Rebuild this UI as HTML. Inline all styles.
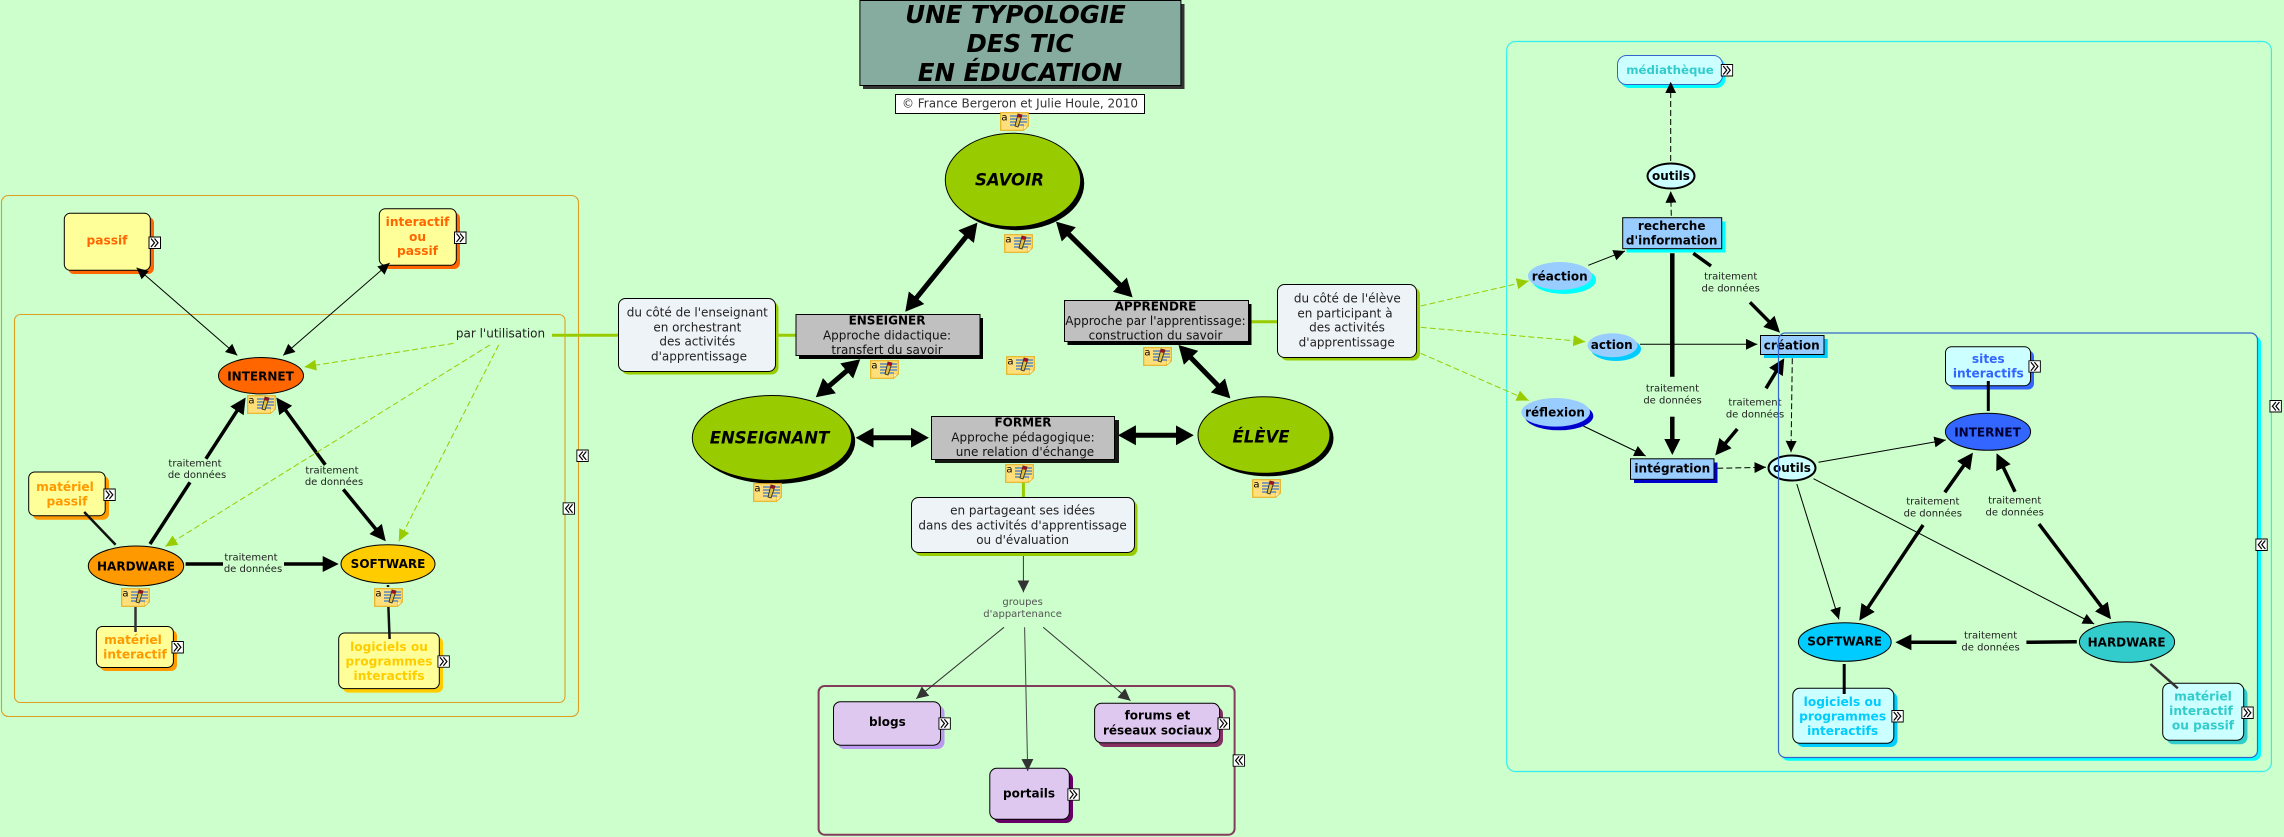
<!DOCTYPE html>
<html lang="fr"><head><meta charset="utf-8"><title>Une typologie des TIC en éducation</title>
<style>
html,body{margin:0;padding:0;background:#ccffcc;width:2284px;height:837px;overflow:hidden}
svg{display:block;filter:blur(.3px)}
text{font-family:"DejaVu Sans",Verdana,"Liberation Sans",sans-serif;text-anchor:middle;dominant-baseline:central}
.r{font-size:12px;fill:#222}
.b{font-size:12px;font-weight:bold;fill:#000}
.n{font-size:12.2px;font-weight:bold}
.s{font-size:10px;fill:#222}
.o{font-size:12px;font-weight:bold;fill:#000}
.h{font-size:16.5px;font-weight:bold;font-style:italic;fill:#000}
.tt{font-size:24.5px;font-weight:bold;font-style:italic;fill:#000}
.thin{stroke:#000;stroke-width:1;fill:none}
.k3{stroke:#000;stroke-width:3.5;fill:none}
.k4{stroke:#000;stroke-width:4.5;fill:none}
.k5{stroke:#000;stroke-width:5;fill:none}
.gd{stroke:#99cc00;stroke-width:1;stroke-dasharray:6 3;fill:none}
.bd{stroke:#000;stroke-width:1;stroke-dasharray:6 3;fill:none}
.g{stroke:#99cc00;stroke-width:3;fill:none}
</style></head><body>
<svg width="2284" height="837" viewBox="0 0 2284 837" xmlns="http://www.w3.org/2000/svg">
<defs>
<marker id="a" markerUnits="userSpaceOnUse" markerWidth="13" markerHeight="13" refX="11.5" refY="5.5" orient="auto-start-reverse"><polygon points="0,0 11.5,5.5 0,11" fill="#000"/></marker>
<marker id="ad" markerUnits="userSpaceOnUse" markerWidth="13" markerHeight="13" refX="12" refY="6" orient="auto-start-reverse"><polygon points="0,0 12,6 0,12" fill="#333"/></marker>
<marker id="ag" markerUnits="userSpaceOnUse" markerWidth="13" markerHeight="13" refX="12" refY="5.5" orient="auto-start-reverse"><polygon points="0,0 12,5.5 0,11" fill="#99cc00"/></marker>
<marker id="t" markerUnits="userSpaceOnUse" markerWidth="17" markerHeight="17" refX="8" refY="8" orient="auto-start-reverse"><polygon points="0,0 16,8 0,16" fill="#000"/></marker>
<marker id="B" markerUnits="userSpaceOnUse" markerWidth="19" markerHeight="21" refX="10" refY="10" orient="auto-start-reverse"><polygon points="0,0 18,10 0,20" fill="#000"/></marker>
<symbol id="note" viewBox="0 0 29 19">
<path d="M.7.7H28.3V14L23.5 18.3H.7Z" fill="#ffdf7a" stroke="#e8b020" stroke-width="1.2"/>
<path d="M23.5 18.3V14H28.3Z" fill="#fff3c0" stroke="#e8b020" stroke-width=".6"/>
<text x="4.5" y="6" style="font-size:10px" fill="#000">a</text>
<path d="M10 4H27M10 7H27M10 10H27M10 13H24" stroke="#3b78c8" stroke-width="1.2"/>
<path d="M18 2L22 3L18 15L15 14Z" fill="#e0c040" stroke="#222" stroke-width=".8"/>
<path d="M18 2L22 3L21 6L17 5Z" fill="#a01020"/>
</symbol>
<symbol id="ex" viewBox="0 0 12.5 12.5">
<rect x=".5" y=".5" width="11.5" height="11.5" fill="#fff" stroke="#000"/>
<path d="M2.5 2L6 6.2L2.5 10.5M6 2L9.5 6.2L6 10.5" fill="none" stroke="#000" stroke-width="1.2"/>
</symbol>
<symbol id="co" viewBox="0 0 12.5 12.5">
<rect x=".5" y=".5" width="11.5" height="11.5" fill="#fff" stroke="#000"/>
<path d="M6.5 2L3 6.2L6.5 10.5M10 2L6.5 6.2L10 10.5" fill="none" stroke="#000" stroke-width="1.2"/>
</symbol>
</defs>

<rect width="2284" height="837" fill="#ccffcc"/>

<!-- containers -->
<rect x="1.5" y="195.5" width="577" height="521" rx="7" fill="none" stroke="#dd9f22" stroke-width="1.1"/>
<rect x="14.5" y="314.5" width="550.5" height="388" rx="6" fill="none" stroke="#dd9f22" stroke-width="1.1"/>
<rect x="818.6" y="686" width="416" height="148.7" rx="6" fill="none" stroke="#843c5c" stroke-width="2"/>
<rect x="1506.7" y="41.5" width="764.7" height="730" rx="9" fill="none" stroke="#33eeee" stroke-width="1.2"/>
<rect x="1781.5" y="336" width="479.5" height="424.7" rx="7" fill="#00ffff"/>
<rect x="1778.3" y="332.7" width="479" height="424.6" rx="7" fill="#ccffcc"/>

<!-- green links -->
<path class="g" d="M552 335.3H618M776 335.3H796M1248 321.7H1278M1023.4 482.7V497.5"/>

<!-- title -->
<rect x="863" y="4" width="321.5" height="85" fill="#333"/>
<rect x="859.9" y=".5" width="321" height="85" fill="#86aca0" stroke="#000"/>
<text class="tt" x="1015.5" y="14.3">UNE TYPOLOGIE</text>
<text class="tt" x="1020" y="43.3">DES TIC</text>
<text class="tt" x="1020" y="72.3">EN ÉDUCATION</text>
<rect x="895.5" y="94.5" width="249" height="19" fill="#fff" stroke="#000"/>
<text class="r" x="1020" y="103.5" style="fill:#333">© France Bergeron et Julie Houle, 2010</text>

<!-- main ellipses -->
<ellipse cx="1016.5" cy="183.5" rx="67.7" ry="46.7" fill="#000"/>
<ellipse cx="1013" cy="180" rx="67.7" ry="46.7" fill="#99cc00" stroke="#000"/>
<text class="h" x="1009.5" y="180">SAVOIR</text>
<ellipse cx="775.5" cy="441.5" rx="79.7" ry="42.5" fill="#000"/>
<ellipse cx="772" cy="438" rx="79.7" ry="42.5" fill="#99cc00" stroke="#000"/>
<text class="h" x="769.5" y="438">ENSEIGNANT</text>
<ellipse cx="1267.5" cy="438" rx="66" ry="38.3" fill="#000"/>
<ellipse cx="1264" cy="435" rx="66" ry="38.3" fill="#99cc00" stroke="#000"/>
<text class="h" x="1261" y="437">ÉLÈVE</text>

<!-- grey boxes -->
<rect x="799" y="318" width="184" height="41" fill="#000"/>
<rect x="796" y="314.5" width="184" height="41" fill="#c0c0c0" stroke="#000"/>
<text class="b" x="887" y="320.7">ENSEIGNER</text>
<text class="r" x="887" y="335.3" style="fill:#111">Approche didactique:</text>
<text class="r" x="887" y="350" style="fill:#111">transfert du savoir</text>
<rect x="1067.5" y="304" width="184" height="41" fill="#000"/>
<rect x="1064.5" y="300.5" width="184" height="41" fill="#c0c0c0" stroke="#000"/>
<text class="b" x="1155.5" y="306.3">APPRENDRE</text>
<text class="r" x="1155.5" y="321" style="fill:#111">Approche par l'apprentissage:</text>
<text class="r" x="1155.5" y="335.7" style="fill:#111">construction du savoir</text>
<rect x="935" y="420" width="184" height="43" fill="#000" opacity=".9"/>
<rect x="931.5" y="416.5" width="183" height="43" fill="#c0c0c0" stroke="#000"/>
<text class="b" x="1023" y="422.7">FORMER</text>
<text class="r" x="1023" y="437.3" style="fill:#111">Approche pédagogique:</text>
<text class="r" x="1025" y="452" style="fill:#111">une relation d'échange</text>

<!-- callouts -->
<rect x="621.5" y="301.5" width="157" height="73" rx="7" fill="#99cc00"/>
<rect x="618.5" y="298.5" width="157" height="73" rx="7" fill="#eef3f8" stroke="#000"/>
<text class="r" x="697.3" y="312.7">du côté de l'enseignant</text>
<text class="r" x="697.3" y="327.3">en orchestrant</text>
<text class="r" x="697.3" y="341.7">des activités</text>
<text class="r" x="699" y="356.7">d'apprentissage</text>
<rect x="1280.5" y="287.5" width="139.5" height="73" rx="7" fill="#99cc00"/>
<rect x="1277.5" y="284.5" width="139" height="73" rx="7" fill="#eef3f8" stroke="#000"/>
<text class="r" x="1347.3" y="298.7">du côté de l'élève</text>
<text class="r" x="1345" y="313.3">en participant à</text>
<text class="r" x="1347" y="327.7">des activités</text>
<text class="r" x="1346.7" y="342.7">d'apprentissage</text>
<rect x="914.5" y="500.5" width="223" height="55.5" rx="7" fill="#99cc00"/>
<rect x="911.5" y="497.5" width="223" height="55" rx="7" fill="#eef3f8" stroke="#000"/>
<text class="r" x="1022.6" y="510.7">en partageant ses idées</text>
<text class="r" x="1022.6" y="525.3">dans des activités d'apprentissage</text>
<text class="r" x="1022.6" y="540">ou d'évaluation</text>
<text class="s" x="1022.6" y="602.3" style="fill:#555">groupes</text>
<text class="s" x="1022.6" y="614.3" style="fill:#555">d'appartenance</text>

<!-- purple nodes -->
<rect x="837.5" y="705.5" width="107" height="43.5" rx="7" fill="#bb99ee"/>
<rect x="833.5" y="701.7" width="107" height="43.5" rx="7" fill="#dfc8f0" stroke="#000"/>
<text class="b" x="887.4" y="722">blogs</text>
<rect x="1098" y="707" width="125" height="40" rx="7" fill="#843060"/>
<rect x="1094.6" y="703.3" width="125" height="39.5" rx="7" fill="#dfc8f0" stroke="#000"/>
<text class="b" x="1157.4" y="715.7">forums et</text>
<text class="b" x="1157.4" y="730.3">réseaux sociaux</text>
<rect x="993.5" y="772" width="79.5" height="51" rx="7" fill="#660066"/>
<rect x="989.8" y="768.3" width="79.5" height="51" rx="7" fill="#dfc8f0" stroke="#000"/>
<text class="b" x="1029" y="793.3">portails</text>

<!-- left nodes -->
<rect x="68" y="217" width="86" height="57" rx="6" fill="#ff6600"/>
<rect x="64.3" y="213.3" width="86" height="57" rx="6" fill="#ffff99" stroke="#000"/>
<text class="n" x="107" y="240.5" style="fill:#ff6600">passif</text>
<rect x="383" y="212.5" width="77" height="56.5" rx="6" fill="#ff6600"/>
<rect x="379.3" y="208.8" width="77" height="56.5" rx="6" fill="#ffff99" stroke="#000"/>
<text class="n" x="417.5" y="222" style="fill:#ff6600">interactif</text>
<text class="n" x="417.5" y="237" style="fill:#ff6600">ou</text>
<text class="n" x="417.5" y="251" style="fill:#ff6600">passif</text>
<rect x="32.5" y="476" width="76.5" height="43.7" rx="6" fill="#ff9900"/>
<rect x="28.7" y="472" width="76.5" height="43.7" rx="6" fill="#ffff99" stroke="#000"/>
<text class="n" x="65" y="487" style="fill:#ff9900">matériel</text>
<text class="n" x="67" y="501.5" style="fill:#ff9900">passif</text>
<rect x="100" y="630" width="77" height="41" rx="6" fill="#ff9900"/>
<rect x="96.4" y="626.5" width="77" height="41" rx="6" fill="#ffff99" stroke="#000"/>
<text class="n" x="133" y="640" style="fill:#ff9900">matériel</text>
<text class="n" x="135" y="654.5" style="fill:#ff9900">interactif</text>
<rect x="342.5" y="637" width="100.6" height="55.6" rx="6" fill="#ffcc00"/>
<rect x="338.7" y="633" width="100.6" height="55.6" rx="6" fill="#ffff99" stroke="#000"/>
<text class="n" x="389" y="647" style="fill:#ffcc00">logiciels ou</text>
<text class="n" x="389" y="661.5" style="fill:#ffcc00">programmes</text>
<text class="n" x="389" y="676" style="fill:#ffcc00">interactifs</text>
<ellipse cx="261" cy="375.7" rx="42.5" ry="18.2" fill="#ff6600" stroke="#000"/>
<text class="b" x="260.5" y="376.5">INTERNET</text>
<ellipse cx="136" cy="566" rx="47.7" ry="20" fill="#ff9900" stroke="#000"/>
<text class="b" x="136" y="566.5">HARDWARE</text>
<ellipse cx="388" cy="564" rx="47" ry="19.3" fill="#ffcc00" stroke="#000"/>
<text class="b" x="388" y="564">SOFTWARE</text>
<text class="r" x="500.5" y="333.6">par l'utilisation</text>
<g class="labels">
<text class="s" x="195" y="463.8">traitement</text><text class="s" x="197" y="475.7">de données</text>
<text class="s" x="332" y="470.8">traitement</text><text class="s" x="334" y="482.7">de données</text>
<text class="s" x="251" y="557.8">traitement</text><text class="s" x="253" y="569.7">de données</text>
<text class="s" x="1672.5" y="389">traitement</text><text class="s" x="1672.5" y="401">de données</text>
<text class="s" x="1730.7" y="277">traitement</text><text class="s" x="1730.7" y="289">de données</text>
<text class="s" x="1755" y="403">traitement</text><text class="s" x="1755" y="415">de données</text>
<text class="s" x="1932.8" y="502">traitement</text><text class="s" x="1932.8" y="514">de données</text>
<text class="s" x="2014.7" y="501">traitement</text><text class="s" x="2014.7" y="513">de données</text>
<text class="s" x="1990.6" y="636">traitement</text><text class="s" x="1990.6" y="648">de données</text>
</g>

<!-- right nodes -->
<rect x="1620.5" y="58.5" width="105" height="29.5" rx="9" fill="#00ffff"/>
<rect x="1617.5" y="55.5" width="105" height="29" rx="9" fill="#ccffff" stroke="#3366cc"/>
<text class="n" x="1670" y="70" style="fill:#33cccc;font-size:11.8px">médiathèque</text>
<ellipse cx="1671" cy="176" rx="23.5" ry="12.5" fill="#ccffff" stroke="#000" stroke-width="2"/>
<text class="o" x="1671" y="176">outils</text>
<rect x="1626.5" y="221.5" width="99" height="31" fill="#00ffff"/>
<rect x="1622.7" y="217.7" width="99" height="31" fill="#99ccff" stroke="#000"/>
<text class="b" x="1671.7" y="226">recherche</text>
<text class="b" x="1671.7" y="240.7">d'information</text>
<ellipse cx="1564" cy="280" rx="32" ry="14" fill="#00ffff"/>
<ellipse cx="1560" cy="276" rx="32" ry="14" fill="#99ccff"/>
<text class="b" x="1559.7" y="276.5">réaction</text>
<ellipse cx="1616" cy="349" rx="25" ry="12" fill="#00ccff"/>
<ellipse cx="1612.5" cy="345.3" rx="25" ry="12" fill="#99ccff"/>
<text class="b" x="1611.7" y="345">action</text>
<ellipse cx="1559" cy="416" rx="34.3" ry="14.3" fill="#0000cc"/>
<ellipse cx="1555.7" cy="412.3" rx="34.3" ry="14.3" fill="#99ccff"/>
<text class="b" x="1555" y="412.7">réflexion</text>
<rect x="1634" y="462.5" width="83.5" height="20.5" fill="#0000cc"/>
<rect x="1630.5" y="458.8" width="83.5" height="20.5" fill="#99ccff" stroke="#000"/>
<text class="b" x="1672.3" y="468.7">intégration</text>
<rect x="1764" y="339" width="63.7" height="19" fill="#00ccff"/>
<rect x="1760.5" y="335.5" width="63.5" height="19" fill="#99ccff" stroke="#000"/>
<text class="b" x="1791.7" y="345.5">création</text>
<ellipse cx="1792" cy="468" rx="23.5" ry="12.5" fill="#ccffff" stroke="#000" stroke-width="2"/>
<text class="o" x="1792" y="468">outils</text>
<rect x="1949" y="350.5" width="85" height="39" rx="6" fill="#3366ff"/>
<rect x="1945.5" y="346.7" width="85" height="39" rx="6" fill="#ccffff" stroke="#000"/>
<text class="n" x="1988.3" y="359" style="fill:#3366ff">sites</text>
<text class="n" x="1988.3" y="373.3" style="fill:#3366ff">interactifs</text>
<ellipse cx="1988" cy="431.8" rx="42.6" ry="18.5" fill="#3366ff" stroke="#000"/>
<text class="b" x="1987.5" y="432.5" style="fill:#000033">INTERNET</text>
<ellipse cx="1844.8" cy="642" rx="46.4" ry="19.3" fill="#00ccff" stroke="#000"/>
<text class="b" x="1844.6" y="641.7">SOFTWARE</text>
<ellipse cx="2127" cy="642" rx="47.6" ry="20.3" fill="#33cccc" stroke="#000"/>
<text class="b" x="2126.6" y="642.3">HARDWARE</text>
<rect x="1796.5" y="692" width="101" height="55" rx="7" fill="#00ccff"/>
<rect x="1792.8" y="688.3" width="101" height="55" rx="7" fill="#ccffff" stroke="#000"/>
<text class="n" x="1842.6" y="702" style="fill:#00ccff">logiciels ou</text>
<text class="n" x="1842.6" y="716.7" style="fill:#00ccff">programmes</text>
<text class="n" x="1842.6" y="731" style="fill:#00ccff">interactifs</text>
<rect x="2166.5" y="687.3" width="81" height="57" rx="7" fill="#33cccc"/>
<rect x="2162.7" y="683.3" width="81" height="57" rx="7" fill="#ccffff" stroke="#000"/>
<text class="n" x="2203" y="696.7" style="fill:#33cccc">matériel</text>
<text class="n" x="2201" y="711" style="fill:#33cccc">interactif</text>
<text class="n" x="2203" y="725.7" style="fill:#33cccc">ou passif</text>

<!-- left connectors -->
<line class="thin" x1="136.6" y1="267.7" x2="237.3" y2="355.4" marker-start="url(#a)" marker-end="url(#a)"/>
<line class="thin" x1="389.6" y1="263" x2="283.2" y2="355.4" marker-start="url(#a)" marker-end="url(#a)"/>
<line class="k3" x1="150" y1="544" x2="190" y2="482.3"/>
<line class="k3" x1="205.9" y1="458.8" x2="241.3" y2="404.2" marker-end="url(#t)"/>
<line class="k3" x1="325.3" y1="464.8" x2="281" y2="404" marker-end="url(#t)"/>
<line class="k3" x1="343.3" y1="489.4" x2="380.7" y2="535.1" marker-end="url(#t)"/>
<line class="k3" x1="185.6" y1="564" x2="223" y2="564"/>
<line class="k3" x1="284" y1="564" x2="330.7" y2="564" marker-end="url(#t)"/>
<line x1="84.2" y1="512" x2="115.6" y2="544.8" stroke="#111" stroke-width="2.5"/>
<line x1="135.5" y1="607" x2="135.5" y2="632" stroke="#333" stroke-width="2.5"/>
<line x1="388.4" y1="607" x2="389.6" y2="639" stroke="#111" stroke-width="2.5"/>
<line x1="388" y1="585" x2="388" y2="587" stroke="#111" stroke-width="2.5"/>
<line class="gd" x1="453.5" y1="343.4" x2="304.2" y2="367" marker-end="url(#ag)"/>
<line class="gd" x1="489.9" y1="344.9" x2="165.3" y2="546.5" marker-end="url(#ag)"/>
<line class="gd" x1="498.7" y1="344.9" x2="398.8" y2="541.3" marker-end="url(#ag)"/>

<!-- central connectors -->
<line class="k5" x1="972.4" y1="228.9" x2="910.3" y2="305.5" marker-start="url(#B)" marker-end="url(#B)"/>
<line class="k5" x1="1061.7" y1="227.3" x2="1126.9" y2="291.7" marker-start="url(#B)" marker-end="url(#B)"/>
<line class="k5" x1="821.9" y1="392.1" x2="854.2" y2="364.5" marker-start="url(#B)" marker-end="url(#B)"/>
<line class="k5" x1="1184.1" y1="350.7" x2="1224.8" y2="392.6" marker-start="url(#B)" marker-end="url(#B)"/>
<line class="k5" x1="863.7" y1="437.7" x2="920.9" y2="437.7" marker-start="url(#B)" marker-end="url(#B)"/>
<line class="k5" x1="1125.9" y1="435.3" x2="1185.8" y2="435.3" marker-start="url(#B)" marker-end="url(#B)"/>
<line x1="1023.4" y1="556" x2="1023.4" y2="592.3" stroke="#333" stroke-width="1" marker-end="url(#ad)"/>
<line x1="1004" y1="627.3" x2="916.2" y2="698.7" stroke="#333" marker-end="url(#ad)"/>
<line x1="1024.6" y1="627.3" x2="1027.7" y2="771" stroke="#444" marker-end="url(#ad)"/>
<line x1="1043.2" y1="627.3" x2="1130.5" y2="700.7" stroke="#333" marker-end="url(#ad)"/>

<!-- right connectors -->
<line class="gd" x1="1420.7" y1="306" x2="1528.7" y2="281" marker-end="url(#ag)"/>
<line class="gd" x1="1420.7" y1="327.3" x2="1585.3" y2="341.7" marker-end="url(#ag)"/>
<line class="gd" x1="1420.7" y1="353.3" x2="1528.7" y2="400.5" marker-end="url(#ag)"/>
<line class="bd" x1="1670.7" y1="161" x2="1670.7" y2="81.7" marker-end="url(#a)"/>
<line class="bd" x1="1671.3" y1="215.7" x2="1670.7" y2="191.3" marker-end="url(#a)"/>
<line class="thin" x1="1588.3" y1="265.3" x2="1625" y2="251" marker-end="url(#a)"/>
<line class="thin" x1="1640" y1="344.3" x2="1757.3" y2="344.3" marker-end="url(#a)"/>
<line class="thin" x1="1583.3" y1="426" x2="1645.7" y2="456" marker-end="url(#a)"/>
<line class="k4" x1="1672.3" y1="253.3" x2="1672.3" y2="376.7"/>
<line class="k4" x1="1672.3" y1="416.7" x2="1672.3" y2="447" marker-end="url(#t)"/>
<line class="k3" x1="1693.3" y1="253.3" x2="1711" y2="266"/>
<line class="k3" x1="1750" y1="302.3" x2="1774.4" y2="327" marker-end="url(#t)"/>
<line class="k3" x1="1766" y1="388.3" x2="1780.1" y2="365.1" marker-end="url(#t)"/>
<line class="k3" x1="1737.3" y1="429" x2="1720.4" y2="449.2" marker-end="url(#t)"/>
<line class="bd" x1="1717.3" y1="468.3" x2="1766" y2="467.3" marker-end="url(#a)"/>
<line class="bd" x1="1792.3" y1="358.3" x2="1791" y2="452.3" marker-end="url(#a)"/>
<line class="thin" x1="1818.5" y1="462.3" x2="1945.8" y2="440" marker-end="url(#a)"/>
<line class="thin" x1="1813.5" y1="478.7" x2="2094.2" y2="624" marker-end="url(#a)"/>
<line class="thin" x1="1796.8" y1="484" x2="1838.9" y2="619.3" marker-end="url(#a)"/>
<line class="k3" x1="1923.1" y1="525" x2="1863.7" y2="614" marker-end="url(#t)"/>
<line class="k3" x1="1944.8" y1="492.3" x2="1968.3" y2="459.2" marker-end="url(#t)"/>
<line class="k3" x1="2015" y1="491.7" x2="2000" y2="460.5" marker-end="url(#t)"/>
<line class="k3" x1="2039" y1="524" x2="2106.2" y2="612.9" marker-end="url(#t)"/>
<line class="k3" x1="2076.8" y1="641.7" x2="2026.4" y2="642.3"/>
<line class="k3" x1="1956.5" y1="642.3" x2="1903.4" y2="642.3" marker-end="url(#t)"/>
<line x1="1988.3" y1="381" x2="1988.3" y2="411" stroke="#000" stroke-width="3"/>
<line x1="1844.2" y1="664" x2="1844.2" y2="694" stroke="#000" stroke-width="3"/>
<line x1="2150.4" y1="664" x2="2177.8" y2="688.3" stroke="#333" stroke-width="2.5"/>

<rect x="1778.5" y="333" width="479" height="424.5" rx="7" fill="none" stroke="#3366cc" stroke-width="1.2"/>

<!-- note icons -->
<use href="#note" x="1000" y="112" width="29" height="19"/>
<use href="#note" x="1004" y="234" width="29" height="19"/>
<use href="#note" x="870" y="360" width="29" height="19"/>
<use href="#note" x="1006" y="356" width="29" height="19"/>
<use href="#note" x="1143" y="347" width="29" height="19"/>
<use href="#note" x="1005" y="464" width="29" height="19"/>
<use href="#note" x="753" y="483" width="29" height="19"/>
<use href="#note" x="1252" y="479" width="29" height="19"/>
<use href="#note" x="247" y="395" width="29" height="19"/>
<use href="#note" x="121" y="588" width="29" height="19"/>
<use href="#note" x="374" y="588" width="29" height="19"/>

<!-- expand icons -->
<use href="#ex" x="148.5" y="236.5" width="12.5" height="12.5"/>
<use href="#ex" x="454" y="231.5" width="12.5" height="12.5"/>
<use href="#ex" x="103.3" y="488.5" width="12.5" height="12.5"/>
<use href="#ex" x="171.4" y="641" width="12.5" height="12.5"/>
<use href="#ex" x="437.4" y="655.3" width="12.5" height="12.5"/>
<use href="#ex" x="938.4" y="717.3" width="12.5" height="12.5"/>
<use href="#ex" x="1217.5" y="717.3" width="12.5" height="12.5"/>
<use href="#ex" x="1067.3" y="788.3" width="12.5" height="12.5"/>
<use href="#ex" x="1720.7" y="64" width="12.5" height="12.5"/>
<use href="#ex" x="2028.4" y="360.2" width="12.5" height="12.5"/>
<use href="#ex" x="1891.3" y="710" width="12.5" height="12.5"/>
<use href="#ex" x="2241.3" y="706.5" width="12.5" height="12.5"/>
<use href="#co" x="576.3" y="449.5" width="12.5" height="12.5"/>
<use href="#co" x="562.6" y="502.3" width="12.5" height="12.5"/>
<use href="#co" x="1232.6" y="754.3" width="12.5" height="12.5"/>
<use href="#co" x="2269.4" y="400" width="12.5" height="12.5"/>
<use href="#co" x="2255.3" y="538.5" width="12.5" height="12.5"/>
</svg>
</body></html>
